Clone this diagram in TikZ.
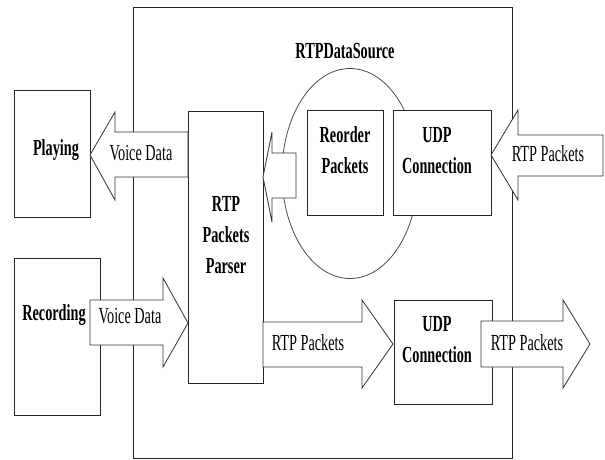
\documentclass[tikz,border=0pt]{standalone}
\usepackage{fontspec}
\setmainfont{Liberation Serif}
\usepackage{graphicx}
\usepackage{tikz}
\usetikzlibrary{calc,positioning}
\newcommand{\sqz}[1]{\scalebox{0.62}[1]{\begin{tabular}{@{}c@{}}#1\end{tabular}}}

\tikzset{
  box/.style={draw=black!85, line width=0.9pt, fill=white, inner sep=0},
  blockarrow/.style={draw=black!80, line width=0.8pt, fill=white, line join=miter},
  boxtext/.style={font=\fontsize{23}{31}\selectfont\bfseries, inner sep=0},
  arrowtext/.style={font=\fontsize{23}{31}\selectfont, inner sep=0}
}

\begin{document}
\begin{tikzpicture}[x=1pt,y=-1pt]
  \useasboundingbox (0,0) rectangle (605,459);
  % frame and the data source
  \draw[black!85, line width=0.7pt] (133,7) rectangle (512,458);
  \draw[black!70, line width=0.8pt] (350,173.5) ellipse [x radius=68, y radius=105];
  \node[boxtext] (rds) at (345,52) {\sqz{RTPDataSource}};

  % boxes
  \node[box, minimum width=76, minimum height=127] (play) at (52,153.5) {};
  \node[box, minimum width=86, minimum height=157] (rec) at (57,336.5) {};
  \node[box, minimum width=75, minimum height=272] (parser) at (225.5,247) {};
  \node[box, minimum width=76, minimum height=105] (reorder) at (345,162.5) {};
  \node[box, minimum width=98, minimum height=105] (udpin) at (442,162.5) {};
  \node[box, minimum width=98, minimum height=104] (udpout) at (443,352) {};

  % block arrows
  \draw[blockarrow] (188,132) -- (115,132) -- (115,112) -- (90,155) -- (115,200) -- (115,177) -- (188,177) -- cycle;
  \draw[blockarrow] (296,153) -- (272,153) -- (272,132) -- (263,177) -- (272,222) -- (272,198) -- (296,198) -- cycle;
  \draw[blockarrow] (603,135) -- (518,135) -- (518,110) -- (491,155) -- (518,200) -- (518,176) -- (603,176) -- cycle;
  \draw[blockarrow] (90,300) -- (163,300) -- (163,278) -- (188,323) -- (163,367) -- (163,345) -- (90,345) -- cycle;
  \draw[blockarrow] (263,322) -- (362,322) -- (362,300) -- (393,344) -- (362,388) -- (362,367) -- (263,367) -- cycle;
  \draw[blockarrow] (481,321) -- (563,321) -- (563,300) -- (590,344) -- (563,388) -- (563,367) -- (481,367) -- cycle;

  % labels
  \node[boxtext] (play-t) at (56,149) {\sqz{Playing}};
  \node[boxtext] (rec-t) at (54,314) {\sqz{Recording}};
  \node[boxtext] (parser-t) at (226,236) {\sqz{RTP\\Packets\\Parser}};
  \node[boxtext] (reorder-t) at (345,152) {\sqz{Reorder\\Packets}};
  \node[boxtext] (udpin-t) at (437,152) {\sqz{UDP\\Connection}};
  \node[boxtext] (udpout-t) at (437,341) {\sqz{UDP\\Connection}};
  \node[arrowtext] (vd-play) at (141,154) {\sqz{Voice Data}};
  \node[arrowtext] (vd-rec) at (130,317) {\sqz{Voice Data}};
  \node[arrowtext] (rtp-in) at (548,155) {\sqz{RTP Packets}};
  \node[arrowtext] (rtp-mid) at (308,344) {\sqz{RTP Packets}};
  \node[arrowtext] (rtp-out) at (527,344) {\sqz{RTP Packets}};
\end{tikzpicture}
\end{document}
